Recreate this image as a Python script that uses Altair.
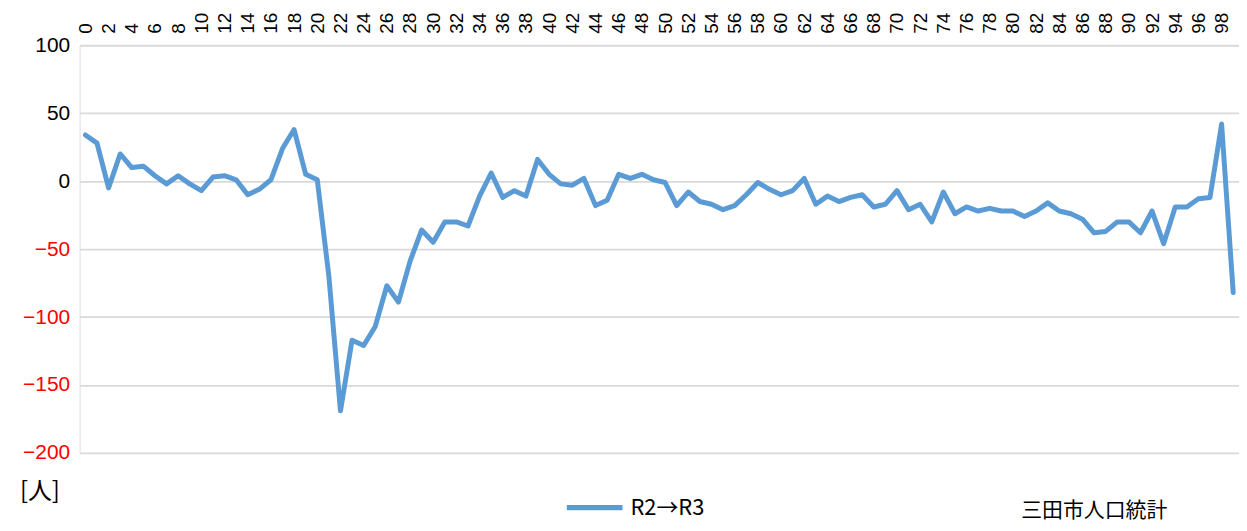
import altair as alt
import pandas as pd

ages = list(range(100))
values = [34, 28, -5, 20, 10, 11, 4, -2, 4, -2,
          -7, 3, 4, 1, -10, -6, 1, 24, 38, 5,
          1, -70, -169, -117, -121, -107, -77, -89, -59, -36,
          -45, -30, -30, -33, -11, 6, -12, -7, -11, 16,
          5, -2, -3, 2, -18, -14, 5, 2, 5, 1,
          -1, -18, -8, -15, -17, -21, -18, -10, -1, -6,
          -10, -7, 2, -17, -11, -15, -12, -10, -19, -17,
          -7, -21, -17, -30, -8, -24, -19, -22, -20, -22,
          -22, -26, -22, -16, -22, -24, -28, -38, -37, -30,
          -30, -38, -22, -46, -19, -19, -13, -12, 42, -82]
series_name = "R2→R3"
x_ticks = list(range(0, 100, 2))
y_ticks = [-200, -150, -100, -50, 0, 50, 100]
unit_label = "[人]"
source_label = "三田市人口統計"

df = pd.DataFrame({"age": ages, "value": values, "series": series_name})

FONT = "Liberation Sans, Arial, sans-serif"
CJK = "Noto Sans CJK JP, sans-serif"

line = alt.Chart(df).mark_line(strokeWidth=5, strokeCap="round", strokeJoin="round").encode(
    x=alt.X("age:Q",
            scale=alt.Scale(domain=[-0.5, 99.5], nice=False, zero=False),
            axis=alt.Axis(orient="top", values=x_ticks, labelAngle=270, grid=False,
                          ticks=False, domain=False, title=None, labelFont=FONT,
                          labelFontSize=19, labelColor="black", labelPadding=12,
                          labelOverlap=False, labelFlush=False)),
    y=alt.Y("value:Q",
            scale=alt.Scale(domain=[-200, 100], nice=False, zero=False),
            axis=alt.Axis(values=y_ticks, grid=True, gridColor="#D9D9D9", gridWidth=1.8,
                          ticks=False, domain=False, title=None, labelFont=FONT,
                          labelFontSize=21, labelPadding=10,
                          labelExpr="datum.value < 0 && datum.value > -200 ? '−' + abs(datum.value) : datum.label",
                          labelColor=alt.condition("datum.value < 0", alt.value("#FF0000"), alt.value("#000000")))),
    color=alt.Color("series:N",
                    scale=alt.Scale(domain=[series_name], range=["#5B9BD5"]),
                    legend=alt.Legend(orient="none", legendX=487, legendY=434, title=None,
                                      symbolType="stroke", symbolSize=3136, symbolStrokeWidth=5.5,
                                      labelFont=CJK, labelFontSize=22, labelColor="black",
                                      labelOffset=5, direction="horizontal")),
)

unit_text = alt.Chart(pd.DataFrame({"t": [unit_label]})).mark_text(
    align="left", baseline="middle", font=CJK, fontSize=24, color="black"
).encode(text="t:N", x=alt.value(-60), y=alt.value(449))

source_text = alt.Chart(pd.DataFrame({"t": [source_label]})).mark_text(
    align="left", baseline="bottom", font=CJK, fontSize=21, color="black"
).encode(text="t:N", x=alt.value(947), y=alt.value(478))

chart = alt.layer(line, unit_text, source_text).properties(
    width=1166, height=410,
    autosize=alt.AutoSizeParams(type="none"),
    padding={"left": 72, "top": 36, "right": 0, "bottom": 69},
).configure_view(stroke=None).configure(background="white")

chart.save("out.html", embed_options={"renderer": "svg", "actions": False})
